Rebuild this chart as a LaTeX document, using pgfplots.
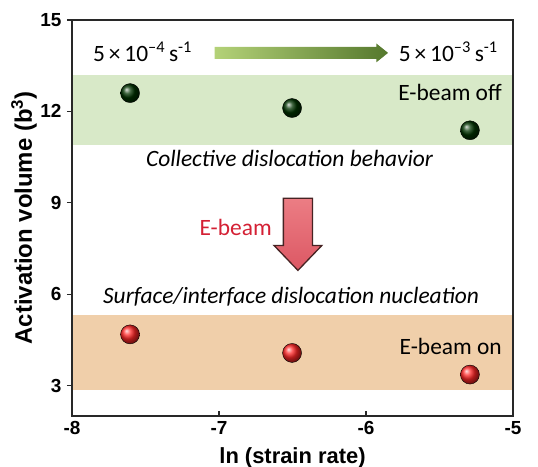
\documentclass[border=0pt]{standalone}
\usepackage{pgfplots}
\pgfplotsset{compat=1.18}
\usepackage{fontspec}
\setmainfont{Carlito}
\newfontfamily\arialf{Liberation Sans}
\definecolor{bandgreen}{RGB}{216,233,200}
\definecolor{bandorange}{RGB}{240,207,170}
\definecolor{arrlight}{RGB}{180,210,120}
\definecolor{arrdark}{RGB}{85,120,45}
\definecolor{redtop}{RGB}{236,125,132}
\definecolor{redbot}{RGB}{220,88,100}
\definecolor{redline}{RGB}{70,35,35}
\definecolor{ebred}{RGB}{212,32,52}
\definecolor{axgray}{RGB}{40,40,40}
\tikzset{txt/.style={font=\fontsize{23.5}{28}\selectfont}}
\begin{document}
\begin{tikzpicture}
\begin{axis}[
  name=ax,
  scale only axis,
  width=441bp, height=396bp,
  xmin=-8, xmax=-5, ymin=2, ymax=15,
  xtick={-8,-7,-6,-5}, ytick={3,6,9,12,15},
  xtick pos=bottom, ytick pos=left,
  xtick align=inside, ytick align=outside,
  major tick length=5bp,
  axis line style={axgray, line width=1.4bp},
  tick style={axgray, line width=1.2bp},
  axis on top,
  /pgf/number format/assume math mode=true,
  ticklabel style={font=\arialf\bfseries\fontsize{19}{22}\selectfont},
  yticklabel style={xshift=-2bp},
  xticklabel style={yshift=-2bp},
  every axis y label/.style={at={(axis description cs:0,0.5)}, xshift=-48bp, rotate=90, anchor=center},
  every axis x label/.style={at={(axis description cs:0.5,0)}, yshift=-42bp, anchor=center},
  xlabel={\arialf\bfseries\fontsize{22}{26}\selectfont ln (strain rate)},
  ylabel={\arialf\bfseries\fontsize{24}{28}\selectfont Activation volume (b\textsuperscript{3})},
]
% bands
\addplot[draw=none, fill=bandgreen] coordinates {(-8,10.89) (-5,10.89) (-5,13.19) (-8,13.19)} -- cycle;
\addplot[draw=none, fill=bandorange] coordinates {(-8,2.84) (-5,2.84) (-5,5.30) (-8,5.30)} -- cycle;
% green arrow
\shade[left color=arrlight, right color=arrdark]
  (axis cs:-7.03,13.72) -- (axis cs:-5.93,13.72) -- (axis cs:-5.93,13.61) -- (axis cs:-5.85,13.92)
  -- (axis cs:-5.93,14.23) -- (axis cs:-5.93,14.12) -- (axis cs:-7.03,14.12) -- cycle;
% red arrow
\shadedraw[top color=redtop, bottom color=redbot, draw=redline, line width=1.3bp, line join=miter]
  (axis cs:-6.562,9.15) -- (axis cs:-6.364,9.15) -- (axis cs:-6.364,7.60) -- (axis cs:-6.30,7.60)
  -- (axis cs:-6.463,6.78) -- (axis cs:-6.626,7.60) -- (axis cs:-6.562,7.60) -- cycle;
% data
\addplot[only marks, mark=ball, mark size=9.5bp, ball color=green!20!black] coordinates {(-7.605,12.60) (-6.503,12.11) (-5.293,11.38)};
\addplot[only marks, mark=ball, mark size=9.5bp, ball color=red!85!white] coordinates {(-7.605,4.68) (-6.503,4.07) (-5.293,3.36)};
% texts
\node[txt] at (axis cs:-7.52,13.95) {5\,×\,10\textsuperscript{–4}\,s\textsuperscript{-1}};
\node[txt] at (axis cs:-5.44,13.95) {5\,×\,10\textsuperscript{–3}\,s\textsuperscript{-1}};
\node[txt, anchor=east, inner sep=0pt] at (axis cs:-5.075,12.62) {E-beam off};
\node[txt] at (axis cs:-6.52,10.45) {\itshape Collective dislocation behavior};
\node[txt, anchor=east, inner sep=0pt, text=ebred] at (axis cs:-6.64,8.2) {E-beam};
\node[txt] at (axis cs:-6.51,5.9) {\itshape Surface/interface dislocation nucleation};
\node[txt, anchor=east, inner sep=0pt] at (axis cs:-5.075,4.28) {E-beam on};
\end{axis}
\pgfresetboundingbox
\useasboundingbox ([shift={(-72bp,-51bp)}]ax.south west) rectangle ([shift={(25bp,20bp)}]ax.north east);
\end{tikzpicture}
\end{document}
